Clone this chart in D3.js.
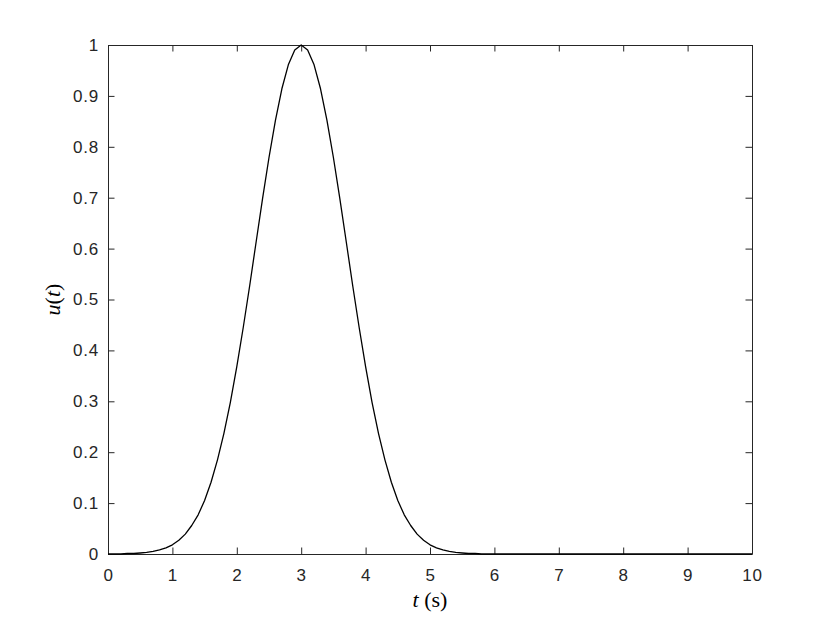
<!DOCTYPE html>
<html>
<head>
<meta charset="utf-8">
<script src="https://cdn.jsdelivr.net/npm/d3@7"></script>
<style>
body { margin: 0; background: #fff; }
svg { display: block; }
</style>
</head>
<body>
<div id="chart"></div>
<script>
var tVals = [0.0, 0.1, 0.2, 0.3, 0.4, 0.5, 0.6, 0.7, 0.8, 0.9,
	1.0, 1.1, 1.2, 1.3, 1.4, 1.5, 1.6, 1.7, 1.8, 1.9,
	2.0, 2.1, 2.2, 2.3, 2.4, 2.5, 2.6, 2.7, 2.8, 2.9,
	3.0, 3.1, 3.2, 3.3, 3.4, 3.5, 3.6, 3.7, 3.8, 3.9,
	4.0, 4.1, 4.2, 4.3, 4.4, 4.5, 4.6, 4.7, 4.8, 4.9,
	5.0, 5.1, 5.2, 5.3, 5.4, 5.5, 5.6, 5.7, 5.8, 5.9,
	6.0, 7.0, 8.0, 9.0, 10.0];
var uVals = [0.000, 0.000, 0.000, 0.001, 0.001, 0.002, 0.003, 0.005, 0.008, 0.012,
	0.018, 0.027, 0.039, 0.056, 0.077, 0.105, 0.141, 0.185, 0.237, 0.298,
	0.368, 0.445, 0.527, 0.613, 0.698, 0.779, 0.852, 0.914, 0.961, 0.990,
	1.000, 0.990, 0.961, 0.914, 0.852, 0.779, 0.698, 0.613, 0.527, 0.445,
	0.368, 0.298, 0.237, 0.185, 0.141, 0.105, 0.077, 0.056, 0.039, 0.027,
	0.018, 0.012, 0.008, 0.005, 0.003, 0.002, 0.001, 0.001, 0.000, 0.000,
	0.000, 0.000, 0.000, 0.000, 0.000];
var xTicks = [0, 1, 2, 3, 4, 5, 6, 7, 8, 9, 10];
var yTicks = [0, 0.1, 0.2, 0.3, 0.4, 0.5, 0.6, 0.7, 0.8, 0.9, 1];

var W = 830, H = 623;
var margin = {left: 108, right: 78, top: 45, bottom: 69};
var w = W - margin.left - margin.right,
	h = H - margin.top - margin.bottom;
var axisColor = "#262626";

var svg = d3.select("#chart").append("svg")
	.attr("width", W)
	.attr("height", H);
var g = svg.append("g")
	.attr("transform", "translate(" + margin.left + "," + margin.top + ")");

var x = d3.scaleLinear().domain([0, 10]).range([0, w]);
var y = d3.scaleLinear().domain([0, 1]).range([h, 0]);

var fmt = function(d) { return d3.format("")(+d.toFixed(1)); };

// bottom / left with labels, top / right ticks only
g.append("g").attr("class", "ax")
	.attr("transform", "translate(0," + h + ")")
	.call(d3.axisBottom(x).tickValues(xTicks).tickSizeInner(-6.5).tickSizeOuter(0).tickPadding(15).tickFormat(fmt));
g.append("g").attr("class", "ax")
	.call(d3.axisLeft(y).tickValues(yTicks).tickSizeInner(-6.5).tickSizeOuter(0).tickPadding(9).tickFormat(fmt));
g.append("g").attr("class", "ax")
	.call(d3.axisTop(x).tickValues(xTicks).tickSizeInner(-6.5).tickSizeOuter(0).tickFormat(""));
g.append("g").attr("class", "ax")
	.attr("transform", "translate(" + w + ",0)")
	.call(d3.axisRight(y).tickValues(yTicks).tickSizeInner(-6.5).tickSizeOuter(0).tickFormat(""));

g.selectAll(".ax path").attr("stroke", axisColor).attr("stroke-width", 1);
g.selectAll(".ax line").attr("stroke", axisColor).attr("stroke-width", 1);
g.selectAll(".ax text")
	.attr("fill", axisColor)
	.style("font-family", "'Liberation Sans', Arial, sans-serif")
	.style("font-size", "17px")
	.style("letter-spacing", "0.8px");

var data = tVals.map(function(t, i) { return {t: t, u: uVals[i]}; });
var line = d3.line()
	.x(function(d) { return x(d.t); })
	.y(function(d) { return y(d.u); });

g.append("path")
	.datum(data)
	.attr("fill", "none")
	.attr("stroke", "#000")
	.attr("stroke-width", 1.3)
	.attr("stroke-linejoin", "round")
	.attr("d", line);

// axis labels (latex style)
var xl = svg.append("text")
	.attr("x", margin.left + w / 2)
	.attr("y", 607)
	.attr("text-anchor", "middle")
	.style("font-family", "'Liberation Serif', 'DejaVu Serif', serif")
	.style("font-size", "22px")
	.attr("fill", "#000");
xl.append("tspan").style("font-style", "italic").text("t");
xl.append("tspan").text(" (s)");

var yl = svg.append("text")
	.attr("transform", "translate(60," + (margin.top + h / 2) + ") rotate(-90)")
	.attr("text-anchor", "middle")
	.style("font-family", "'Liberation Serif', 'DejaVu Serif', serif")
	.style("font-size", "22px")
	.attr("fill", "#000");
yl.append("tspan").style("font-style", "italic").text("u");
yl.append("tspan").text("(");
yl.append("tspan").style("font-style", "italic").text("t");
yl.append("tspan").text(")");
</script>
</body>
</html>
